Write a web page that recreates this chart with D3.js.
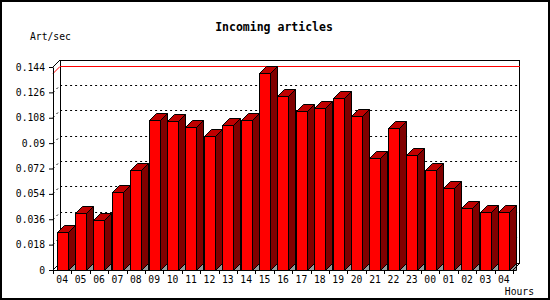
<!DOCTYPE html>
<html>
<head>
<meta charset="utf-8">
<script src="https://cdn.jsdelivr.net/npm/d3@7"></script>
<style>
  body { margin: 0; background: #fff; }
  text { font-family: "DejaVu Sans Mono", monospace; fill: #000; }
</style>
</head>
<body>
<div id="chart"></div>
<script>
// hourly data
const hours = ["04","05","06","07","08","09","10","11","12","13","14","15","16",
  "17","18","19","20","21","22","23","00","01","02","03","04"];
const artPerSec = [0.0267, 0.0401, 0.0354, 0.0550, 0.0706, 0.1062, 0.1055, 0.1010,
  0.0947, 0.1025, 0.1060, 0.1394, 0.1230, 0.1124, 0.1145, 0.1216, 0.1088, 0.0791,
  0.1003, 0.0812, 0.0706, 0.0579, 0.0437, 0.0409, 0.0409];
const yTicks = [0, 0.018, 0.036, 0.054, 0.072, 0.09, 0.108, 0.126, 0.144];
const yTickLabels = ["0", "0.018", "0.036", "0.054", "0.072", "0.09", "0.108", "0.126", "0.144"];

const width = 550, height = 300;
const depth = 7;
const plotLeft = 53, plotRight = 513, plotTop = 67, plotBottom = 270;

// snap a y coordinate to the pixel centre
const snap = v => Math.floor(v) + 0.5;

const svg = d3.select("#chart").append("svg")
  .attr("width", width)
  .attr("height", height);

svg.append("rect")
  .attr("x", 1).attr("y", 1)
  .attr("width", width - 2).attr("height", height - 2)
  .attr("fill", "#fff")
  .attr("stroke", "#000")
  .attr("stroke-width", 2);

const x = d3.scaleBand()
  .domain(d3.range(hours.length))
  .range([plotLeft, plotRight])
  .padding(0);

const y = d3.scaleLinear()
  .domain([0, 0.144])
  .range([plotBottom, plotTop]);

// back wall + grid
const g = svg.append("g");

g.append("rect")
  .attr("x", plotLeft + depth + 0.5).attr("y", plotTop - depth + 0.5)
  .attr("width", plotRight - plotLeft - 1).attr("height", plotBottom - plotTop)
  .attr("fill", "#fff")
  .attr("stroke", "#000");

g.selectAll(".grid")
  .data(yTicks.filter(t => t > 0 && t < 0.144))
  .join("path")
    .attr("class", "grid")
    .attr("d", t => `M${plotLeft},${snap(y(t))}L${plotLeft + depth},${snap(y(t)) - depth}L${plotRight + depth},${snap(y(t)) - depth}`)
    .attr("fill", "none")
    .attr("stroke", "#000")
    .attr("stroke-dasharray", "2,3");

// max line
const maxVal = d3.max(artPerSec);
const yMax = snap(y(maxVal));
g.append("path")
  .attr("d", `M${plotLeft},${yMax}L${plotLeft + depth},${yMax - depth}L${plotRight + depth},${yMax - depth}`)
  .attr("fill", "none")
  .attr("stroke", "#f00");

// floor edge
g.append("path")
  .attr("d", `M${plotLeft},${plotBottom}L${plotLeft + depth},${plotBottom - depth}`)
  .attr("stroke", "#000");

// bars
const bw = x.bandwidth() * 0.6;
const bars = svg.append("g")
  .selectAll("g")
  .data(artPerSec)
  .join("g");

bars.each(function(d, i) {
  const b = d3.select(this);
  const x0 = Math.round(x(i) + (x.bandwidth() - bw) / 2) + 0.5;
  const x1 = x0 + Math.round(bw);
  const yt = snap(y(d));
  const yb = plotBottom + 0.5;
  b.append("path")
    .attr("d", `M${x1},${yb}L${x1 + depth},${yb - depth}L${x1 + depth},${yb}Z`)
    .attr("fill", "#999")
    .attr("stroke", "#000");
  b.append("path")
    .attr("d", `M${x1},${yt}L${x1 + depth},${yt - depth}L${x1 + depth},${yb - depth}L${x1},${yb}Z`)
    .attr("fill", "#800000")
    .attr("stroke", "#000");
  b.append("path")
    .attr("d", `M${x0},${yt}L${x0 + depth},${yt - depth}L${x1 + depth},${yt - depth}L${x1},${yt}Z`)
    .attr("fill", "#c00000")
    .attr("stroke", "#000");
  b.append("rect")
    .attr("x", x0).attr("y", yt)
    .attr("width", x1 - x0).attr("height", yb - yt)
    .attr("fill", "#f00")
    .attr("stroke", "#000");
});

// front axes
svg.append("path")
  .attr("d", `M${plotLeft + depth},${plotTop - depth}L${plotLeft},${plotTop}`)
  .attr("stroke", "#000");
svg.append("path")
  .attr("d", `M${plotRight},${plotBottom}L${plotRight + depth},${plotBottom - depth}`)
  .attr("stroke", "#000");

const yAxis = svg.append("g")
  .attr("transform", `translate(${plotLeft},0)`)
  .call(d3.axisLeft(y)
    .tickValues(yTicks)
    .tickFormat((d, i) => yTickLabels[i])
    .tickSize(4).tickSizeOuter(0).tickPadding(4));
yAxis.selectAll("text").style("font-size", "9.7px").attr("font-family", null);

const xAxis = svg.append("g")
  .attr("transform", `translate(0,${plotBottom})`)
  .call(d3.axisBottom(x)
    .tickFormat(i => hours[i])
    .tickSize(0).tickSizeOuter(0).tickPadding(6));
xAxis.selectAll("text").style("font-size", "9.7px").attr("font-family", null);

svg.append("g")
  .selectAll("line")
  .data(d3.range(hours.length + 1))
  .join("line")
    .attr("x1", i => Math.round(plotLeft + i * x.step()) + 0.5)
    .attr("x2", i => Math.round(plotLeft + i * x.step()) + 0.5)
    .attr("y1", plotBottom)
    .attr("y2", plotBottom + 4)
    .attr("stroke", "#000");

// titles
svg.append("text")
  .attr("x", 274).attr("y", 31)
  .attr("text-anchor", "middle")
  .style("font-size", "11.5px")
  .style("font-weight", "bold")
  .text("Incoming articles");

svg.append("text")
  .attr("x", 30).attr("y", 40)
  .style("font-size", "9.7px")
  .text("Art/sec");

svg.append("text")
  .attr("x", 534).attr("y", 295)
  .attr("text-anchor", "end")
  .style("font-size", "9.7px")
  .text("Hours");
</script>
</body>
</html>
